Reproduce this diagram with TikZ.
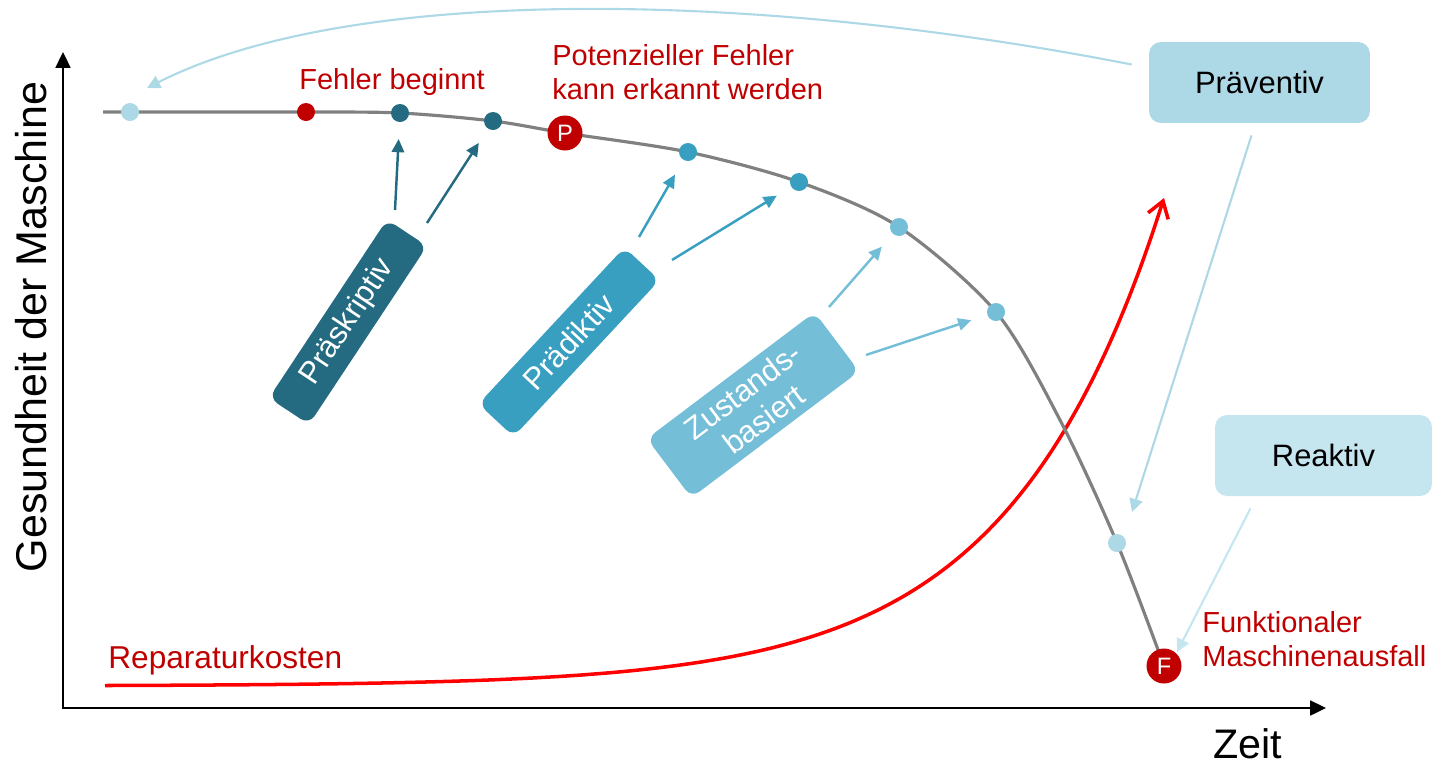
\documentclass[tikz,border=0pt]{standalone}
\usepackage{fontspec}
\setmainfont{Liberation Sans}
\usetikzlibrary{arrows.meta,calc}
\definecolor{cGrey}{RGB}{128,128,128}
\definecolor{cDark}{RGB}{192,0,0}
\definecolor{cRed}{RGB}{255,0,0}
\definecolor{cTeal}{RGB}{36,107,130}
\definecolor{cMid}{RGB}{56,159,192}
\definecolor{cSoft}{RGB}{116,190,216}
\definecolor{cLight}{RGB}{173,216,230}
\definecolor{cPale}{RGB}{197,229,239}

\begin{document}
\begin{tikzpicture}[x=0.02cm, y=-0.02cm,
    axisline/.style={line width=1.1pt,
                     {Triangle[length=9pt,width=8.5pt]}-{Triangle[length=9pt,width=8.5pt]}},
    health/.style={draw=cGrey, line width=1.8pt},
    cost/.style={draw=cRed, line width=2pt, -{Straight Barb[length=9pt,width=12pt]}},
    hpoint/.style={circle, inner sep=0pt, minimum size=0.36cm},
    event/.style={circle, fill=cDark, inner sep=0pt, minimum size=0.7cm,
                  text=white, font=\fontsize{13.5}{13.5}\selectfont},
    mbox/.style={rectangle, rounded corners=0.2cm, inner sep=0pt,
                 minimum width=4.28cm, minimum height=0.96cm, align=center,
                 text=white, font=\fontsize{17.6}{20}\selectfont},
    lbox/.style={rectangle, rounded corners=0.24cm, minimum width=4.42cm,
                 minimum height=1.62cm, font=\fontsize{17.6}{21}\selectfont},
    lbl/.style={text=cDark, inner sep=0pt, align=left,
                font=\fontsize{16.5}{19.5}\selectfont},
    hint/.style={line width=1.4pt, -{Triangle[length=7.5pt,width=7pt]}, shorten >=9.5pt},
    link/.style={line width=1.2pt, -{Triangle[length=7.5pt,width=7.5pt]}}
]
\useasboundingbox (0,0) rectangle (1433,765);

% axes
\coordinate (ytip) at (63,52);
\coordinate (xtip) at (1326,708);
\draw[axisline] (ytip) |- (xtip);
\node[rotate=90, inner sep=0pt, font=\fontsize{24.5}{24.5}\selectfont] (ylab) at (31,327) {Gesundheit der Maschine};
\node[anchor=base, inner sep=0pt, font=\fontsize{23.5}{23.5}\selectfont] (xlab) at (1248,758) {Zeit};

% points on the health curve
\coordinate (p0) at (130,112);
\coordinate (p1) at (306,112);
\coordinate (p2) at (400,113);
\coordinate (p3) at (493,121);
\coordinate (pP) at (565,133);
\coordinate (p4) at (688,152);
\coordinate (p5) at (799,182);
\coordinate (p6) at (899,227);
\coordinate (p7) at (996,312);
\coordinate (p8) at (1117,543);
\coordinate (pF) at (1164,666);

% repair cost (grows exponentially)
\draw[cost] plot[domain=105:1164, samples=90, smooth] (\x, {686 - 488*exp(0.0065*(\x-1164))});

% health of the machine
\draw[health] plot[smooth, tension=0.5] coordinates {(103,112) (p0) (p1) (p2) (p3) (pP) (p4)
    (p5) (p6) (p7) (1060,420) (p8) (pF)};

\node[hpoint, fill=cLight] (d0) at (p0) {};
\node[hpoint, fill=cDark]  (d1) at (p1) {};
\node[hpoint, fill=cTeal]  (d2) at (p2) {};
\node[hpoint, fill=cTeal]  (d3) at (p3) {};
\node[event]               (eP) at (pP) {P};
\node[hpoint, fill=cMid]   (d4) at (p4) {};
\node[hpoint, fill=cMid]   (d5) at (p5) {};
\node[hpoint, fill=cSoft]  (d6) at (p6) {};
\node[hpoint, fill=cSoft]  (d7) at (p7) {};
\node[hpoint, fill=cLight] (d8) at (p8) {};
\node[event]               (eF) at (pF) {F};

% labels
\node[lbl, anchor=base west]  (lstart) at (299,89)   {Fehler beginnt};
\node[lbl, anchor=north west] (lpot)   at (552,44)   {Potenzieller Fehler\\kann erkannt werden};
\node[lbl, anchor=north west] (lfail)  at (1202,611) {Funktionaler\\Maschinenausfall};
\node[lbl, anchor=base west, font=\fontsize{18}{20}\selectfont] (lcost) at (108,668) {Reparaturkosten};

% maintenance strategies
\node[mbox, fill=cTeal, rotate=56.5] (pk) at (348,322) {Präskriptiv};
\node[mbox, fill=cMid, rotate=47]    (pd) at (569,342) {Prädiktiv};
\node[mbox, fill=cSoft, rotate=37, minimum width=4.2cm, minimum height=1.48cm] (zb) at (753,405) {Zustands-\\basiert};

\node[lbox, fill=cLight] (pv) at (1259.5,82.5) {Präventiv};
\node[lbox, fill=cPale, minimum width=4.34cm] (rk) at (1323.5,455.5) {Reaktiv};

\draw[hint, cTeal] ([shift={(47,-112)}]pk.center) -- (d2);
\draw[hint, cTeal] ([shift={(79,-99)}]pk.center) -- (d3);
\draw[hint, cMid]  ([shift={(70,-105)}]pd.center) -- (d4);
\draw[hint, cMid]  ([shift={(103,-82)}]pd.center) -- (d5);
\draw[hint, cSoft] ([shift={(76,-98)}]zb.center) -- (d6);
\draw[hint, cSoft] ([shift={(113,-50)}]zb.center) -- (d7);

\draw[link, cLight] ([shift={(-17,-18)}]pv.west) .. controls (750,-10) and (350,-15) .. ([shift={(17,-24)}]d0.center);
\draw[link, cLight] ([shift={(-8,12)}]pv.south) -- ([shift={(15,-31)}]d8.center);
\draw[link, cPale]  ([shift={(-73,12)}]rk.south) -- ([shift={(13,-14)}]eF.center);
\end{tikzpicture}
\end{document}
